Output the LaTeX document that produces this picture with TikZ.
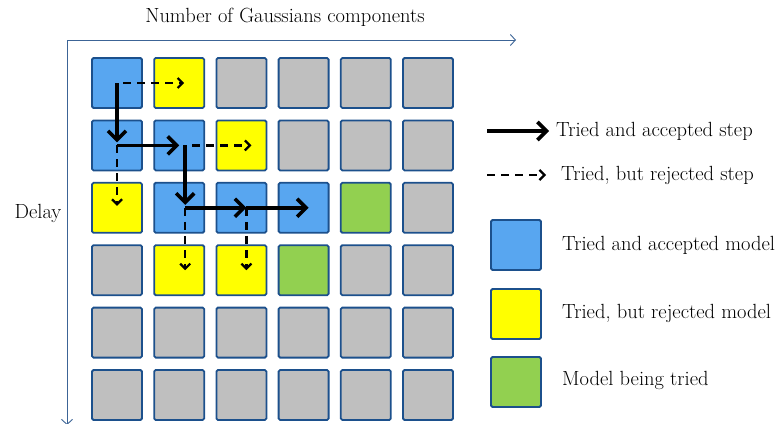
\documentclass[tikz,border=0pt]{standalone}
\usepackage{fontspec}
\setmainfont{Latin Modern Roman}
\usetikzlibrary{arrows.meta}
\definecolor{cellblue}{RGB}{88,166,240}
\definecolor{cellyellow}{RGB}{255,255,0}
\definecolor{cellgray}{RGB}{191,191,191}
\definecolor{cellgreen}{RGB}{146,208,80}
\definecolor{cellborder}{RGB}{28,80,140}
\definecolor{axisblue}{RGB}{60,100,150}
\newcommand{\textsz}{\fontsize{20.5}{24}\selectfont}
\tikzset{
  cell/.style={draw=cellborder, line width=1.8pt, rounded corners=1.5pt,
    minimum width=50pt, minimum height=50pt, inner sep=0pt},
  accepted/.style={cell, fill=cellblue},
  rejected/.style={cell, fill=cellyellow},
  untried/.style={cell, fill=cellgray},
  trying/.style={cell, fill=cellgreen},
  okstep/.style={line width=3.6pt, -{Straight Barb[length=9pt,width=18pt,line width=3.6pt]}},
  nostep/.style={line width=2.2pt, dash pattern=on 8pt off 6pt,
    -{Straight Barb[length=5pt,width=10pt,line width=2.2pt]}},
  axis/.style={draw=axisblue, line width=0.9pt, -{Straight Barb[length=5pt,width=11pt,line width=0.9pt]}},
  lbl/.style={font=\textsz, inner sep=0pt, anchor=west}
}
\begin{document}
\begin{tikzpicture}[x=1pt,y=-1pt]
\useasboundingbox (0,0) rectangle (783,423);

% axes
\coordinate (origin) at (67,40);
\coordinate (xend) at (516,40);
\coordinate (yend) at (67,425);
\draw[axis] (origin) -- (xend);
\draw[axis] (origin) -- (yend);
\node[font=\textsz, inner sep=0pt] (xlabel) at (285,17) {Number of Gaussians components};
\node[font=\textsz, inner sep=0pt] (ylabel) at (38,213) {Delay};

% grid of candidate models: row r, column c
\foreach \r/\c/\kind in {
  1/1/accepted,1/2/rejected,1/3/untried,1/4/untried,1/5/untried,1/6/untried,
  2/1/accepted,2/2/accepted,2/3/rejected,2/4/untried,2/5/untried,2/6/untried,
  3/1/rejected,3/2/accepted,3/3/accepted,3/4/accepted,3/5/trying,3/6/untried,
  4/1/untried,4/2/rejected,4/3/rejected,4/4/trying,4/5/untried,4/6/untried,
  5/1/untried,5/2/untried,5/3/untried,5/4/untried,5/5/untried,5/6/untried,
  6/1/untried,6/2/untried,6/3/untried,6/4/untried,6/5/untried,6/6/untried}
  \node[\kind] (c\r\c) at ({117+62.2*(\c-1)},{83+62.4*(\r-1)}) {};

% search path
\draw[nostep, shorten <=6pt, shorten >=-5pt] (c11.center) -- (c12.center);
\draw[okstep, shorten >=3pt] (c11.center) -- (c21.center);
\draw[nostep] (c21.center) -- ([yshift=2pt]c31.center);
\draw[okstep] (c21.center) -- (c22.center);
\draw[nostep, shorten <=6pt, shorten >=-5pt] ([xshift=7pt]c22.center) -- ([xshift=5pt]c23.center);
\draw[okstep, shorten >=3pt] ([xshift=6pt]c22.center) -- ([xshift=6pt]c32.center);
\draw[nostep] ([xshift=6pt]c32.center) -- ([xshift=6pt]c42.center);
\draw[okstep] ([xshift=6pt]c32.center) -- ([xshift=5pt]c33.center);
\draw[nostep] ([xshift=5pt]c33.center) -- ([xshift=5pt]c43.center);
\draw[okstep] ([xshift=5pt]c33.center) -- ([xshift=5pt]c34.center);

% legend
\coordinate (la1) at (487,131);
\coordinate (lb1) at (549,131);
\coordinate (la2) at (487,175);
\coordinate (lb2) at (546,175);
\draw[okstep] (la1) -- (lb1);
\draw[nostep] (la2) -- (lb2);
\node[lbl] (t1) at (556,131) {Tried and accepted step};
\node[lbl] (t2) at (561,175) {Tried, but rejected step};
\node[accepted] (k1) at (516,245) {};
\node[rejected] (k2) at (516,314) {};
\node[trying] (k3) at (516,382) {};
\node[lbl] (t3) at (562,245) {Tried and accepted model};
\node[lbl] (t4) at (562,313) {Tried, but rejected model};
\node[lbl] (t5) at (562,380) {Model being tried};
\end{tikzpicture}
\end{document}
